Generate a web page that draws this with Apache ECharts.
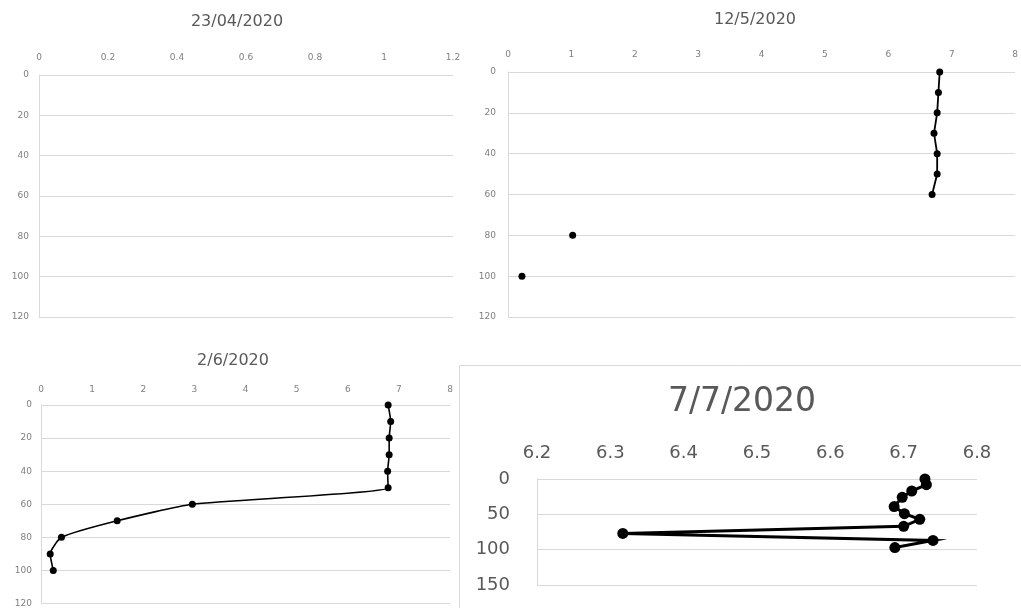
<!DOCTYPE html>
<html><head><meta charset="utf-8">
<script src="https://cdn.jsdelivr.net/npm/echarts@6/dist/echarts.min.js"></script>
<style>html,body{margin:0;padding:0;background:#fff;overflow:hidden}#c{width:1021px;height:608px}</style>
</head><body><div id="c"></div><script>
// ---- data ----
const panelTitles = ['23/04/2020', '12/5/2020', '2/6/2020', '7/7/2020'];

// 23/04/2020 : no measurements
const depthsA = [];
const valuesA = [];

// 12/5/2020 (gaps where no reading)
const depthsB = [0, 10, 20, 30, 40, 50, 60, 70, 80, 90, 100];
const valuesB = [6.81, 6.79, 6.77, 6.72, 6.77, 6.77, 6.69, null, 1.02, null, 0.22];

// 2/6/2020
const depthsC = [0, 10, 20, 30, 40, 50, 60, 70, 80, 90, 100];
const valuesC = [6.79, 6.84, 6.81, 6.81, 6.78, 6.79, 2.96, 1.49, 0.40, 0.18, 0.24];

// 7/7/2020
const depthsD = [0, 8, 17, 26, 39, 49, 57, 67, 77, 87, 97];
const valuesD = [6.729, 6.731, 6.711, 6.698, 6.687, 6.701, 6.722, 6.700, 6.317, 6.740, 6.688];

// axis ranges [min, max, interval]
const xRanges = [[0, 1.2, 0.2], [0, 8, 1], [0, 8, 1], [6.2, 6.8, 0.1]];
const yRanges = [[0, 120, 20], [0, 120, 20], [0, 120, 20], [0, 150, 50]];

// ---- layout ----
const FONT = 'DejaVu Sans';
const GRID_COLOR = '#d9d9d9';
const TEXT_COLOR = '#595959';
const grids = [
  {left: 39, top: 75, width: 414, height: 242},
  {left: 508, top: 72, width: 511, height: 245},
  {left: 41, top: 405, width: 409, height: 200},
  {left: 537, top: 479, width: 440, height: 106}
];
const xLabel = [
  {fontSize: 9, margin: 13},
  {fontSize: 9, margin: 13},
  {fontSize: 9, margin: 11},
  {fontSize: 18, margin: 17}
];
const yLabel = [
  {fontSize: 9, margin: 10},
  {fontSize: 9, margin: 12},
  {fontSize: 9, margin: 9},
  {fontSize: 18, margin: 27}
];
const titlePos = [
  {x: 237, y: 14, size: 16},
  {x: 755, y: 12, size: 16},
  {x: 233, y: 353, size: 16},
  {x: 742, y: 386, size: 33}
];

const pairs = (xs, ys) => ys.map((d, i) => [xs[i], d]);
const seriesData = [
  pairs(valuesA, depthsA),
  pairs(valuesB, depthsB),
  pairs(valuesC, depthsC),
  pairs(valuesD, depthsD)
];
const lineStyles = [
  {width: 1.8, symbol: 7, smooth: false},
  {width: 1.8, symbol: 7, smooth: false},
  {width: 1.6, symbol: 7, smooth: 0.18},
  {width: 3, symbol: 11, smooth: false}
];

const chart = echarts.init(document.getElementById('c'), null, {renderer: 'canvas'});
chart.setOption({
  animation: false,
  backgroundColor: '#fff',
  title: panelTitles.map((t, i) => ({
    text: t, left: titlePos[i].x, top: titlePos[i].y, textAlign: 'center', padding: 0,
    textStyle: {fontFamily: FONT, fontSize: titlePos[i].size, fontWeight: 'normal', color: TEXT_COLOR}
  })),
  graphic: [{
    type: 'rect', z: -10, silent: true,
    shape: {x: 459.5, y: 365.5, width: 700, height: 400},
    style: {fill: 'none', stroke: GRID_COLOR, lineWidth: 1}
  }],
  grid: grids.map(g => Object.assign({containLabel: false}, g)),
  xAxis: xRanges.map((r, i) => ({
    type: 'value', gridIndex: i, position: 'top',
    min: r[0], max: r[1], interval: r[2],
    axisLine: {show: false}, axisTick: {show: false}, splitLine: {show: false},
    axisLabel: {fontFamily: FONT, fontSize: xLabel[i].fontSize, margin: xLabel[i].margin, color: i === 3 ? TEXT_COLOR : '#7f7f7f'}
  })),
  yAxis: yRanges.map((r, i) => ({
    type: 'value', gridIndex: i, inverse: true,
    min: r[0], max: r[1], interval: r[2],
    axisLine: {show: true, lineStyle: {color: GRID_COLOR, width: 1}},
    axisTick: {show: false},
    splitLine: {show: true, lineStyle: {color: GRID_COLOR, width: 1}},
    axisLabel: {fontFamily: FONT, fontSize: yLabel[i].fontSize, margin: yLabel[i].margin, color: i === 3 ? TEXT_COLOR : '#7f7f7f'}
  })),
  series: seriesData.map((d, i) => ({
    type: 'line', xAxisIndex: i, yAxisIndex: i,
    data: d, connectNulls: false,
    smooth: lineStyles[i].smooth,
    symbol: 'circle', symbolSize: lineStyles[i].symbol, showSymbol: true, showAllSymbol: true,
    itemStyle: {color: '#000'},
    lineStyle: {color: '#000', width: lineStyles[i].width, join: 'miter'}
  }))
});
</script></body></html>
